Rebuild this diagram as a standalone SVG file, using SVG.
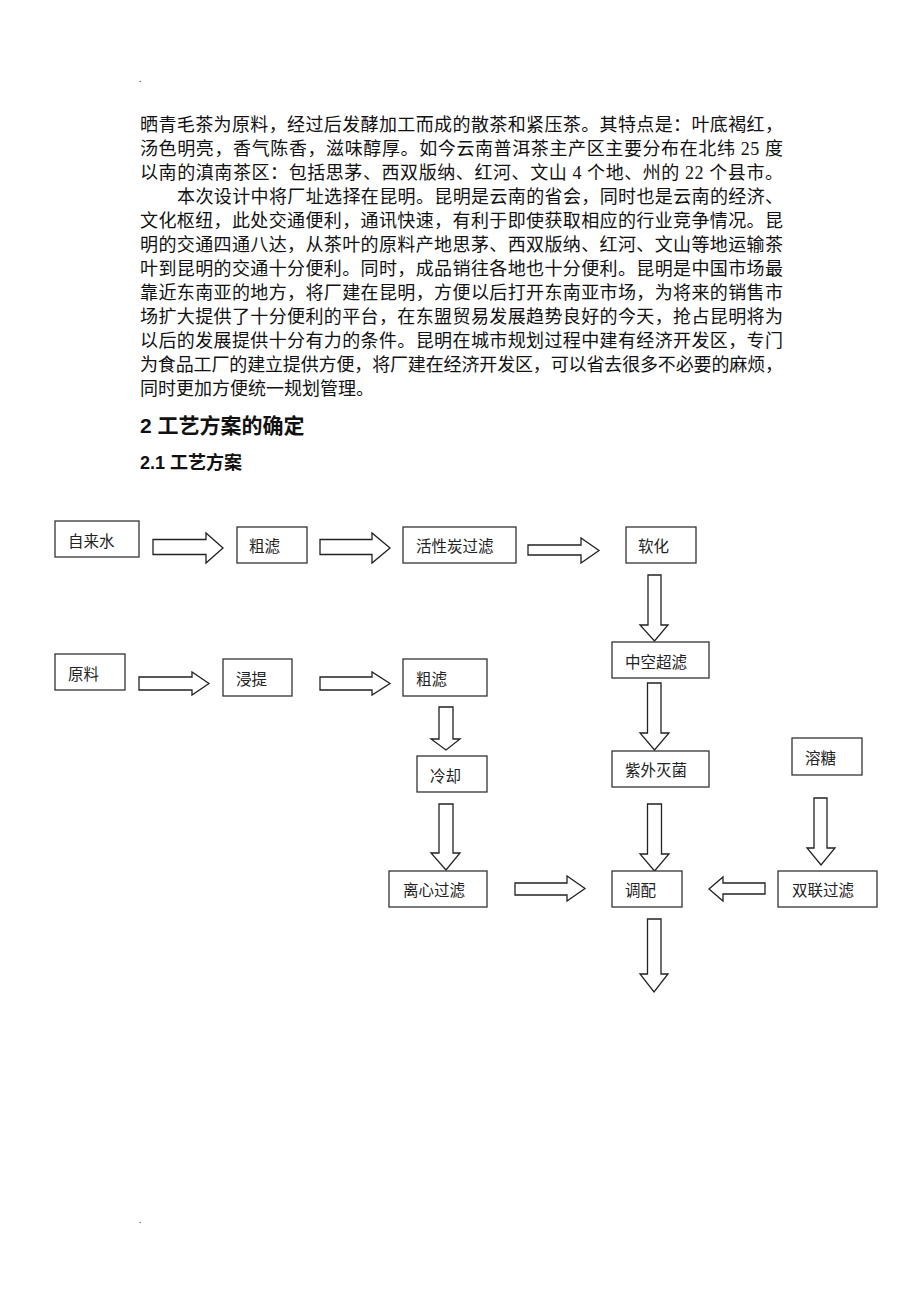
<svg xmlns="http://www.w3.org/2000/svg" width="920" height="1302" viewBox="0 0 920 1302">
<style>
.body{font-family:"Liberation Serif","Noto Sans CJK SC",serif;font-size:18px;fill:#111}
.h1{font-family:"Liberation Sans","Noto Sans CJK SC",sans-serif;font-size:21px;font-weight:bold;fill:#111}
.h2{font-family:"Liberation Sans","Noto Sans CJK SC",sans-serif;font-size:18px;font-weight:bold;fill:#111}
.box{fill:#fff;stroke:#333;stroke-width:1.3}
.lbl{font-family:"Noto Sans CJK SC",sans-serif;font-size:15.5px;fill:#222;dominant-baseline:central}
.arr{fill:#fff;stroke:#222;stroke-width:1.3;stroke-linejoin:miter}
.dot{font-family:"Liberation Serif",serif;font-size:10px;fill:#333}
</style>
<rect width="920" height="1302" fill="#fff"/>
<text class="dot" x="139" y="82">.</text>
<text class="dot" x="139" y="1223">.</text>
<g id="body-text">
<text class="body" x="140" y="131" textLength="643" lengthAdjust="spacing">晒青毛茶为原料，经过后发酵加工而成的散茶和紧压茶。其特点是：叶底褐红，</text>
<text class="body" x="140" y="155" textLength="643" lengthAdjust="spacing">汤色明亮，香气陈香，滋味醇厚。如今云南普洱茶主产区主要分布在北纬 25 度</text>
<text class="body" x="140" y="179" textLength="643" lengthAdjust="spacing">以南的滇南茶区：包括思茅、西双版纳、红河、文山 4 个地、州的 22 个县市。</text>
<text class="body" x="177" y="203" textLength="606" lengthAdjust="spacing">本次设计中将厂址选择在昆明。昆明是云南的省会，同时也是云南的经济、</text>
<text class="body" x="140" y="227" textLength="643" lengthAdjust="spacing">文化枢纽，此处交通便利，通讯快速，有利于即使获取相应的行业竞争情况。昆</text>
<text class="body" x="140" y="251" textLength="643" lengthAdjust="spacing">明的交通四通八达，从茶叶的原料产地思茅、西双版纳、红河、文山等地运输茶</text>
<text class="body" x="140" y="275" textLength="643" lengthAdjust="spacing">叶到昆明的交通十分便利。同时，成品销往各地也十分便利。昆明是中国市场最</text>
<text class="body" x="140" y="299" textLength="643" lengthAdjust="spacing">靠近东南亚的地方，将厂建在昆明，方便以后打开东南亚市场，为将来的销售市</text>
<text class="body" x="140" y="323" textLength="643" lengthAdjust="spacing">场扩大提供了十分便利的平台，在东盟贸易发展趋势良好的今天，抢占昆明将为</text>
<text class="body" x="140" y="347" textLength="643" lengthAdjust="spacing">以后的发展提供十分有力的条件。昆明在城市规划过程中建有经济开发区，专门</text>
<text class="body" x="140" y="371" textLength="643" lengthAdjust="spacing">为食品工厂的建立提供方便，将厂建在经济开发区，可以省去很多不必要的麻烦，</text>
<text class="body" x="140" y="395">同时更加方便统一规划管理。</text>
<text class="h1" x="140" y="433">2 工艺方案的确定</text>
<text class="h2" x="140" y="469">2.1 工艺方案</text>
</g>
<g id="connectors">
<polygon class="arr" points="153,539.5 206,539.5 206,533 223,548 206,563 206,554.5 153,554.5"/>
<polygon class="arr" points="320,539.5 372,539.5 372,533 390,548 372,563 372,554.5 320,554.5"/>
<polygon class="arr" points="528,545 581,545 581,538 599,550.5 581,563 581,555 528,555"/>
<polygon class="arr" points="139,677 192,677 192,672 209,683.5 192,695 192,690 139,690"/>
<polygon class="arr" points="320,677 372,677 372,672 390,683.5 372,695 372,690 320,690"/>
<polygon class="arr" points="648,575 661,575 661,625 668,625 654.5,641 640,625 648,625"/>
<polygon class="arr" points="647.5,683 661,683 661,733 669,733 654.5,750 640,733 647.5,733"/>
<polygon class="arr" points="647.5,804 661.5,804 661.5,854 669,854 654.5,871 640,854 647.5,854"/>
<polygon class="arr" points="647.5,919 661,919 661,974 668,974 654,992 640,974 647.5,974"/>
<polygon class="arr" points="439,707 453,707 453,739 460,739 446,750 431,739 439,739"/>
<polygon class="arr" points="439,804 453,804 453,853 460,853 446,870 431,853 439,853"/>
<polygon class="arr" points="814,798 827,798 827,848 835,848 821,865 807,848 814,848"/>
<polygon class="arr" points="515,883 567,883 567,876 585,888.5 567,901 567,895 515,895"/>
<polygon class="arr" points="765,883 723,883 723,877 709,889 723,901 723,894 765,894"/>
</g>
<g id="n-zilaishui"><rect class="box" x="55" y="521" width="84" height="36"/><text class="lbl" x="68" y="540">自来水</text></g>
<g id="n-culv1"><rect class="box" x="237" y="527" width="70" height="36"/><text class="lbl" x="249" y="545">粗滤</text></g>
<g id="n-huoxingtan"><rect class="box" x="403" y="527" width="113" height="36"/><text class="lbl" x="416" y="545">活性炭过滤</text></g>
<g id="n-ruanhua"><rect class="box" x="626" y="527" width="70" height="36"/><text class="lbl" x="638" y="545">软化</text></g>
<g id="n-zhongkong"><rect class="box" x="612" y="642" width="97" height="36"/><text class="lbl" x="625" y="661">中空超滤</text></g>
<g id="n-yuanliao"><rect class="box" x="55" y="654" width="70" height="36"/><text class="lbl" x="68" y="673">原料</text></g>
<g id="n-jinti"><rect class="box" x="223" y="659" width="69" height="37"/><text class="lbl" x="236" y="678">浸提</text></g>
<g id="n-culv2"><rect class="box" x="403" y="659" width="84" height="37"/><text class="lbl" x="416" y="678">粗滤</text></g>
<g id="n-lengque"><rect class="box" x="417" y="756" width="70" height="36"/><text class="lbl" x="430" y="775">冷却</text></g>
<g id="n-lixin"><rect class="box" x="389" y="871" width="98" height="36"/><text class="lbl" x="403" y="889">离心过滤</text></g>
<g id="n-ziwai"><rect class="box" x="612" y="751" width="97" height="36"/><text class="lbl" x="625" y="769">紫外灭菌</text></g>
<g id="n-tiaopei"><rect class="box" x="612" y="871" width="70" height="36"/><text class="lbl" x="625" y="889">调配</text></g>
<g id="n-rongtang"><rect class="box" x="792" y="738" width="70" height="37"/><text class="lbl" x="805" y="757">溶糖</text></g>
<g id="n-shuanglian"><rect class="box" x="778" y="871" width="99" height="36"/><text class="lbl" x="792" y="889">双联过滤</text></g>
</svg>
